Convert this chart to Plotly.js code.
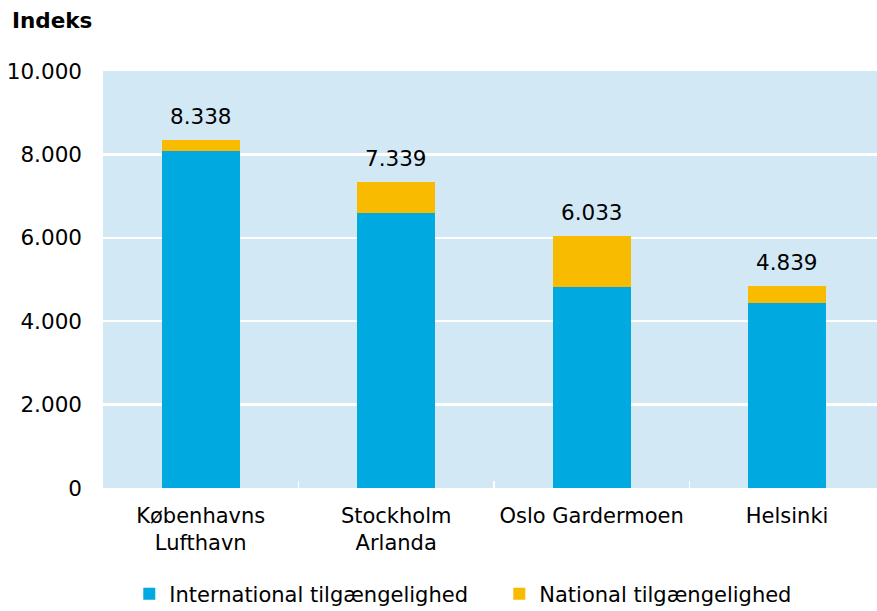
<!DOCTYPE html>
<html>
<head>
<meta charset="utf-8">
<script src="https://cdn.plot.ly/plotly-3.0.1.min.js"></script>
<style>html,body{margin:0;padding:0;background:#fff;}#chart{width:877px;height:611px;}</style>
</head>
<body>
<div id="chart"></div>
<script>
const categories = ["Københavns<br>Lufthavn", "Stockholm<br>Arlanda", "Oslo Gardermoen", "Helsinki"];
const international = [8070, 6600, 4815, 4430];
const national = [268, 739, 1218, 409];
const seriesNames = ["International tilgængelighed", "National tilgængelighed"];
const yTickVals = [0, 2000, 4000, 6000, 8000, 10000];

const totals = international.map((v, i) => v + national[i]);
const fmt = n => String(n).replace(/\B(?=(\d{3})+(?!\d))/g, ".");

const FONT = "DejaVu Sans, Verdana, sans-serif";
const FS = 21.5;
const traces = [
  {type: "bar", name: seriesNames[0], x: categories, y: international,
   marker: {color: "#00a9e0"}, width: 0.4, hoverinfo: "skip"},
  {type: "bar", name: seriesNames[1], x: categories, y: national,
   marker: {color: "#f8bb00"}, width: 0.4, hoverinfo: "skip"}
];

const annotations = categories.map((c, i) => ({
  x: c, y: totals[i], xref: "x", yref: "y", text: fmt(totals[i]),
  showarrow: false, yanchor: "bottom", yshift: 9,
  font: {family: FONT, size: FS, color: "#000"}
}));
annotations.push({
  xref: "paper", yref: "paper", x: -0.12, y: 1.12, xanchor: "left", yanchor: "middle",
  text: "<b>Indeks</b>", showarrow: false, font: {family: FONT, size: 21.5, color: "#000"}
});

const layout = {
  width: 877, height: 611,
  margin: {l: 103, r: 0, t: 71, b: 123, autoexpand: false},
  paper_bgcolor: "#ffffff", plot_bgcolor: "#d2e8f5",
  barmode: "stack",
  separators: ",.",
  font: {family: FONT, size: FS, color: "#000"},
  xaxis: {type: "category", range: [-0.5, 3.46], tickson: "boundaries", ticks: "inside", ticklen: 7, tickcolor: "#ffffff", tickwidth: 1.5,
          ticklabelstandoff: 13, automargin: false, tickangle: 0,
          showgrid: false, zeroline: false, showline: false, tickfont: {family: FONT, size: 21, color: "#000"}},
  yaxis: {range: [0, 10000], tickvals: yTickVals, tickformat: ",d", showgrid: true, gridcolor: "#ffffff", gridwidth: 2.5,
          automargin: false,
          zeroline: false, showline: false, ticks: "", ticklabelstandoff: 20, tickfont: {family: FONT, size: FS, color: "#000"}},
  showlegend: true,
  legend: {orientation: "h", x: 0.512, xanchor: "center", y: -0.205, yanchor: "top",
           font: {family: FONT, size: 21, color: "#000"}, traceorder: "normal", itemwidth: 30,
           entrywidth: 325, entrywidthmode: "pixels"},
  annotations: annotations,
  bargap: 0.6
};

Plotly.newPlot("chart", traces, layout, {displayModeBar: false, staticPlot: true});
</script>
</body>
</html>
